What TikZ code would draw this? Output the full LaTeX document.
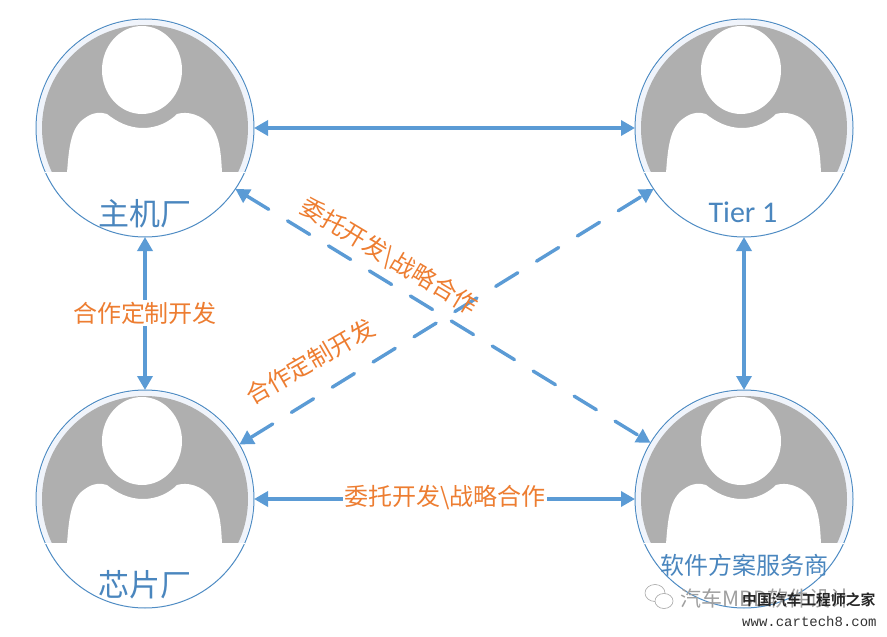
\documentclass[tikz,border=0pt]{standalone}
\usepackage{fontspec}
\setmainfont{Carlito}
\newfontfamily\cjk{Noto Sans CJK SC}
\newfontfamily\cjkbold{Noto Sans CJK SC Bold}
\newfontfamily\monof{Liberation Mono}
\usetikzlibrary{arrows.meta}
\definecolor{linkblue}{HTML}{5B9BD5}
\definecolor{ringblue}{HTML}{4F8CC4}
\definecolor{nameblue}{HTML}{4A86BE}
\definecolor{orangetxt}{HTML}{ED7D31}
\definecolor{palering}{HTML}{F0F4FB}
\definecolor{avatargray}{HTML}{AFAFAF}
\newcommand{\fsz}[1]{\fontsize{#1}{#1}\selectfont}
\tikzset{
  person/.style={circle,draw=ringblue,line width=1pt,fill=white,minimum size=218pt,inner sep=0pt,outer sep=0pt},
  link/.style={draw=linkblue,line width=3.4pt,{Triangle[length=14pt,width=15pt]}-{Triangle[length=14pt,width=15pt]}},
  dashlink/.style={link,dash pattern=on 26pt off 22pt,line cap=round},
  who/.style={text=nameblue,inner sep=0pt},
  rel/.style={text=orangetxt,inner sep=1.5pt,font=\cjk\fsz{24}},
  avatar/.pic={
    \begin{scope}
      \clip (-110,-110) rectangle (110,44);
      \fill[palering] (0,0) circle[radius=108];
      \fill[avatargray] (0,0) circle[radius=103];
    \end{scope}
    \fill[white] (-3,-58) ellipse[x radius=40,y radius=44];
    \fill[white] (-78,45) .. controls (-76,18) and (-74,-1) .. (-60,-10)
       .. controls (-52,-16) and (-44,-16) .. (-38,-14)
       .. controls (-28,-6) and (-16,0) .. (-2,0)
       .. controls (12,0) and (24,-6) .. (32,-14)
       .. controls (42,-17) and (56,-14) .. (66,-2)
       .. controls (74,8) and (76,22) .. (77,45) -- cycle;
    \fill[white] (-100,44) rectangle (100,45);
  }
}
\begin{document}
\begin{tikzpicture}[x=1pt,y=-1pt]
\useasboundingbox (0,0) rectangle (887,637);
\node[person] (oem) at (145,128) {};
\node[person] (tier) at (744,128) {};
\node[person] (chip) at (145,499) {};
\node[person] (soft) at (744,499) {};
\pic at (145,128) {avatar};
\pic at (744,128) {avatar};
\pic at (145,499) {avatar};
\pic at (744,499) {avatar};
\node[who,font=\cjk\fsz{31}] (noem) at (145,214) {主机厂};
\node[who,font=\fsz{30}] (ntier) at (743,212) {Tier 1};
\node[who,font=\cjk\fsz{31}] (nchip) at (145,585) {芯片厂};
\node[who,font=\cjk\fsz{24}] (nsoft) at (744,565) {软件方案服务商};
\draw[link] (oem.east) -- (tier.west);
\draw[link] (chip.east) -- (soft.west);
\draw[link] (oem.south) -- (chip.north);
\draw[link] (tier.south) -- (soft.north);
\draw[dashlink] (oem.-34) -- (soft.149);
\draw[dashlink] (chip.30) -- (tier.214);
\node[rel,fill=white] (l1) at (145,313) {合作定制开发};
\node[rel,fill=white] (l2) at (445,498) {委托开发\textbackslash 战略合作};
\node[rel,rotate=-31] (l3) at (389,257) {委托开发\textbackslash 战略合作};
\node[rel,rotate=30] (l4) at (310,362) {合作定制开发};
% watermark
\begin{scope}[draw=gray!70,line width=.6pt,fill=white]
  \draw[fill=white] (655,593) ellipse[x radius=10,y radius=8.5];
  \draw[fill=white] (664,601) ellipse[x radius=9,y radius=7.5];
\end{scope}
\node[inner sep=0pt,text=gray!75,font=\cjk\fsz{21},anchor=west] (wm1) at (680,598) {汽车MBD软件设计};
\node[inner sep=0pt,text=black!85,font=\cjkbold\fsz{14.8},anchor=west] (wm2) at (742,600) {中国汽车工程师之家};
\node[inner sep=0pt,text=black!80,font=\monof\fsz{14},anchor=west] (wm3) at (742,621) {www.cartech8.com};
\end{tikzpicture}
\end{document}
